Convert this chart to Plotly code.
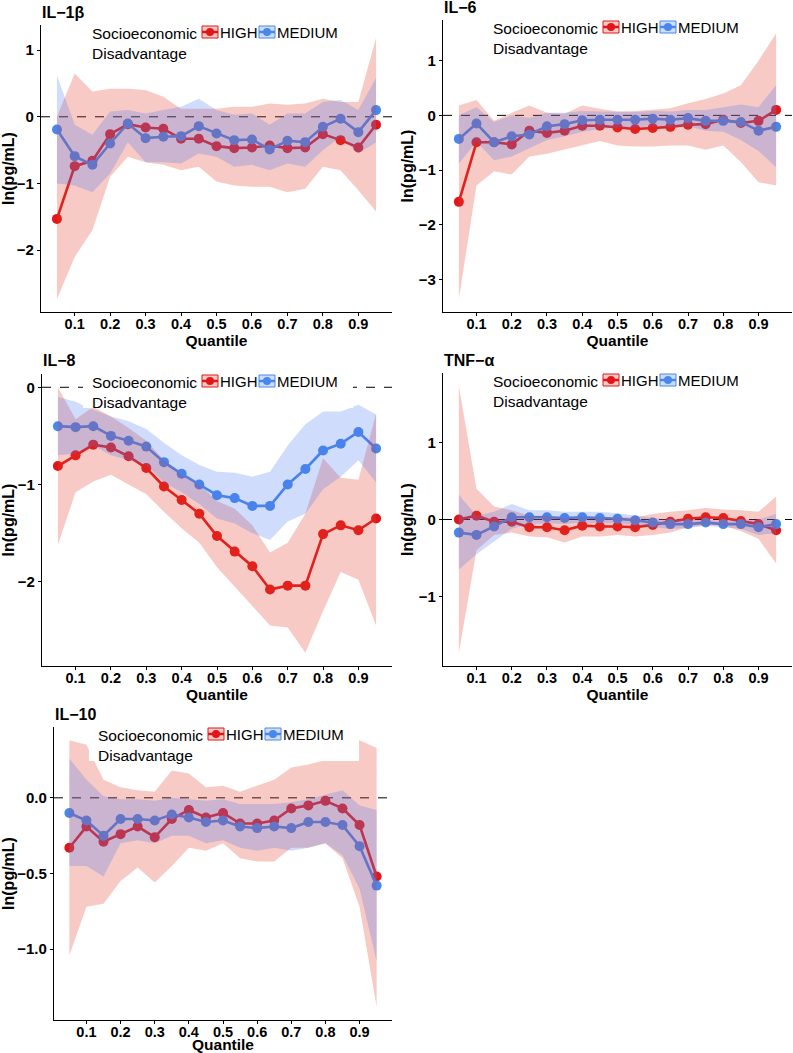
import plotly.graph_objects as go

# quantiles on the x axis
quantiles = [0.05, 0.1, 0.15, 0.2, 0.25, 0.3, 0.35, 0.4, 0.45, 0.5,
             0.55, 0.6, 0.65, 0.7, 0.75, 0.8, 0.85, 0.9, 0.95]

# IL-1b
il1b_high = [-1.53, -0.74, -0.66, -0.26, -0.11, -0.16, -0.18, -0.33, -0.33, -0.44,
             -0.47, -0.46, -0.43, -0.47, -0.46, -0.26, -0.35, -0.46, -0.12]
il1b_high_lo = [-2.73, -2.1, -1.7, -0.9, -0.6, -0.68, -0.72, -0.8, -0.75, -0.97,
                -1.03, -1.05, -1.05, -1.13, -1.08, -0.75, -0.8, -1.1, -1.42]
il1b_high_hi = [0.0, 0.65, 0.38, 0.42, 0.42, 0.4, 0.3, 0.12, 0.12, 0.12,
                0.15, 0.15, 0.2, 0.18, 0.2, 0.27, 0.22, 0.22, 1.18]
il1b_med = [-0.19, -0.59, -0.72, -0.4, -0.1, -0.32, -0.3, -0.29, -0.14, -0.25,
            -0.35, -0.34, -0.49, -0.36, -0.38, -0.15, -0.03, -0.23, 0.1]
il1b_med_lo = [-1.0, -1.03, -1.13, -0.85, -0.38, -0.68, -0.68, -0.7, -0.55, -0.6,
               -0.75, -0.72, -0.8, -0.7, -0.75, -0.5, -0.3, -0.55, -0.38]
il1b_med_hi = [0.62, -0.12, -0.27, 0.08, 0.1, 0.05, 0.1, 0.15, 0.27, 0.1,
               0.03, 0.05, -0.12, 0.05, 0.05, 0.22, 0.25, 0.1, 0.58]

# IL-6
il6_high = [-1.58, -0.49, -0.49, -0.53, -0.28, -0.32, -0.28, -0.19, -0.19, -0.22,
            -0.25, -0.23, -0.21, -0.17, -0.16, -0.08, -0.14, -0.1, 0.1]
il6_high_lo = [-3.35, -1.28, -1.02, -1.08, -0.75, -0.7, -0.62, -0.55, -0.47, -0.55,
               -0.57, -0.57, -0.55, -0.55, -0.63, -0.55, -0.85, -1.22, -1.28]
il6_high_hi = [0.18, 0.28, -0.1, 0.05, 0.18, 0.05, 0.03, 0.18, 0.12, 0.07,
               0.08, 0.1, 0.13, 0.22, 0.3, 0.4, 0.55, 1.0, 1.5]
il6_med = [-0.43, -0.15, -0.49, -0.38, -0.35, -0.2, -0.16, -0.09, -0.08, -0.08,
           -0.08, -0.06, -0.08, -0.05, -0.1, -0.1, -0.12, -0.28, -0.21]
il6_med_lo = [-0.88, -0.48, -0.82, -0.75, -0.6, -0.45, -0.38, -0.3, -0.25, -0.22,
              -0.22, -0.2, -0.22, -0.2, -0.28, -0.3, -0.45, -0.65, -0.95]
il6_med_hi = [0.0, 0.15, -0.12, 0.0, -0.05, 0.05, 0.05, 0.08, 0.07, 0.06,
              0.06, 0.08, 0.07, 0.1, 0.1, 0.15, 0.2, 0.15, 0.55]

# IL-8
il8_high = [-0.81, -0.7, -0.59, -0.62, -0.71, -0.83, -1.02, -1.16, -1.3, -1.53,
            -1.69, -1.84, -2.08, -2.04, -2.04, -1.51, -1.42, -1.47, -1.35]
il8_high_lo = [-1.62, -1.08, -0.97, -0.9, -1.0, -1.1, -1.28, -1.45, -1.6, -1.85,
               -2.05, -2.25, -2.45, -2.47, -2.73, -2.3, -1.9, -1.98, -2.45]
il8_high_hi = [0.0, -0.33, -0.2, -0.3, -0.42, -0.55, -0.75, -0.9, -1.0, -1.17,
               -1.25, -1.42, -1.7, -1.6, -1.3, -0.73, -0.93, -0.95, -0.27]
il8_med = [-0.4, -0.41, -0.4, -0.5, -0.55, -0.61, -0.77, -0.89, -1.0, -1.11,
           -1.14, -1.22, -1.22, -1.0, -0.84, -0.65, -0.58, -0.46, -0.63]
il8_med_lo = [-0.7, -0.68, -0.6, -0.7, -0.75, -0.8, -0.98, -1.08, -1.2, -1.35,
              -1.4, -1.5, -1.57, -1.38, -1.3, -1.05, -0.92, -0.75, -0.98]
il8_med_hi = [-0.1, -0.15, -0.23, -0.3, -0.35, -0.43, -0.57, -0.7, -0.8, -0.87,
              -0.88, -0.92, -0.87, -0.6, -0.38, -0.25, -0.25, -0.18, -0.28]

# TNF-a
tnf_high = [0.0, 0.05, -0.03, -0.03, -0.1, -0.1, -0.14, -0.08, -0.09, -0.09,
            -0.1, -0.07, -0.03, 0.01, 0.03, 0.02, -0.02, -0.06, -0.14]
tnf_high_lo = [-1.73, -0.4, -0.2, -0.17, -0.22, -0.23, -0.3, -0.22, -0.22, -0.2,
               -0.22, -0.2, -0.17, -0.1, -0.07, -0.08, -0.15, -0.25, -0.57]
tnf_high_hi = [1.73, 0.4, 0.17, 0.12, 0.05, 0.05, 0.02, 0.03, 0.03, 0.03,
               0.03, 0.07, 0.1, 0.12, 0.15, 0.13, 0.12, 0.1, 0.3]
tnf_med = [-0.17, -0.2, -0.09, 0.03, 0.03, 0.03, 0.02, 0.03, 0.02, 0.01,
           -0.01, -0.04, -0.06, -0.06, -0.04, -0.06, -0.06, -0.1, -0.06]
tnf_med_lo = [-0.65, -0.45, -0.28, -0.12, -0.06, -0.05, -0.06, -0.04, -0.05, -0.05,
              -0.07, -0.1, -0.12, -0.11, -0.08, -0.1, -0.12, -0.2, -0.18]
tnf_med_hi = [0.32, 0.05, 0.1, 0.2, 0.12, 0.12, 0.1, 0.1, 0.1, 0.08,
              0.05, 0.02, 0.0, -0.01, 0.0, -0.02, 0.0, 0.0, 0.07]

# IL-10
il10_high = [-0.33, -0.19, -0.29, -0.24, -0.19, -0.26, -0.14, -0.08, -0.13, -0.1,
             -0.17, -0.17, -0.15, -0.07, -0.05, -0.02, -0.07, -0.18, -0.52]
il10_high_lo = [-1.04, -0.72, -0.7, -0.55, -0.46, -0.56, -0.45, -0.33, -0.35, -0.3,
                -0.4, -0.42, -0.42, -0.33, -0.33, -0.3, -0.4, -0.72, -1.38]
il10_high_hi = [0.38, 0.35, 0.12, 0.07, 0.05, 0.04, 0.18, 0.16, 0.07, 0.08,
                0.04, 0.08, 0.12, 0.2, 0.22, 0.25, 0.25, 0.38, 0.33]
il10_med = [-0.1, -0.15, -0.25, -0.14, -0.14, -0.15, -0.11, -0.13, -0.16, -0.15,
            -0.19, -0.2, -0.19, -0.2, -0.16, -0.16, -0.18, -0.32, -0.58]
il10_med_lo = [-0.45, -0.45, -0.52, -0.3, -0.28, -0.3, -0.25, -0.25, -0.3, -0.28,
               -0.33, -0.35, -0.33, -0.35, -0.33, -0.3, -0.38, -0.6, -1.08]
il10_med_hi = [0.26, 0.12, 0.01, -0.01, -0.01, -0.02, 0.0, -0.01, -0.02, -0.01,
               -0.04, -0.04, -0.04, -0.03, -0.01, 0.02, 0.05, -0.05, -0.08]

panel_titles = ["IL\u22121\u03b2", "IL\u22126", "IL\u22128", "TNF\u2212\u03b1", "IL\u221210"]
groups = ["HIGH", "MEDIUM"]
x_ticks = [0.1, 0.2, 0.3, 0.4, 0.5, 0.6, 0.7, 0.8, 0.9]
y_ticks = [[-2, -1, 0, 1], [-3, -2, -1, 0, 1], [-2, -1, 0], [-1, 0, 1], [-1.0, -0.5, 0.0]]

panel_data = [
    (il1b_high, il1b_high_lo, il1b_high_hi, il1b_med, il1b_med_lo, il1b_med_hi),
    (il6_high, il6_high_lo, il6_high_hi, il6_med, il6_med_lo, il6_med_hi),
    (il8_high, il8_high_lo, il8_high_hi, il8_med, il8_med_lo, il8_med_hi),
    (tnf_high, tnf_high_lo, tnf_high_hi, tnf_med, tnf_med_lo, tnf_med_hi),
    (il10_high, il10_high_lo, il10_high_hi, il10_med, il10_med_lo, il10_med_hi),
]

W, H = 793, 1053
# plot boxes in page pixels: left, right, top, bottom
boxes = [(41, 392, 25, 312), (443, 792, 20, 312), (42, 392, 374, 666),
         (443, 792, 373, 666), (54, 392, 727, 1020)]
legend_dx = [50, 49, 49, 49, 43]

RED = "rgb(226,22,24)"
BLUE = "rgb(72,136,236)"
RED_FILL = "rgba(226,60,40,0.27)"
BLUE_FILL = "rgba(72,120,240,0.26)"
FONT = "Liberation Sans, Arial, sans-serif"


def px(x):
    return x / W


def py(y):
    return 1 - y / H


fig = go.Figure()

for i, (data, box) in enumerate(zip(panel_data, boxes)):
    high, high_lo, high_hi, med, med_lo, med_hi = data
    n = "" if i == 0 else str(i + 1)
    xa, ya = "x" + n, "y" + n

    # lines and points first, ribbons on top
    for vals, col in [(high, RED), (med, BLUE)]:
        fig.add_trace(go.Scatter(x=quantiles, y=vals, mode="lines+markers",
                                 line=dict(color=col, width=2.6),
                                 marker=dict(color=col, size=10),
                                 showlegend=False, xaxis=xa, yaxis=ya))
    for lo, hi, fcol in [(high_lo, high_hi, RED_FILL), (med_lo, med_hi, BLUE_FILL)]:
        fig.add_trace(go.Scatter(x=quantiles + quantiles[::-1], y=hi + lo[::-1],
                                 fill="toself", fillcolor=fcol, mode="lines",
                                 line=dict(width=0), showlegend=False,
                                 hoverinfo="skip", xaxis=xa, yaxis=ya))

    allv = high_lo + high_hi + med_lo + med_hi + high + med
    lo_v, hi_v = min(allv), max(allv)
    pad = (hi_v - lo_v) * 0.05
    l, r, t, b = box
    ax_x = dict(domain=[px(l), px(r)], range=[0.005, 0.995], anchor=ya,
                tickvals=x_ticks, tickformat=".1f", showline=True, linecolor="black",
                linewidth=1.2, ticks="outside", ticklen=3, tickcolor="black",
                ticklabelstandoff=-5,
                showgrid=False, zeroline=False, automargin=False,
                tickfont=dict(family=FONT, size=14.5, color="black", weight="bold"),
                title=dict(text="<b>Quantile</b>", standoff=4,
                           font=dict(family=FONT, size=15.5, color="black")))
    ax_y = dict(domain=[py(b), py(t)], range=[lo_v - pad, hi_v + pad], anchor=xa,
                tickvals=y_ticks[i], showline=True, linecolor="black", linewidth=1.2,
                ticks="outside", ticklen=3, tickcolor="black", showgrid=False,
                zeroline=False, automargin=False,
                tickfont=dict(family=FONT, size=15, color="black", weight="bold"),
                title=dict(text="<b>ln(pg/mL)</b>", standoff=1,
                           font=dict(family=FONT, size=16, color="black")))
    if i == 4:
        ax_y["tickformat"] = ".1f"
    fig.layout["xaxis" + n] = ax_x
    fig.layout["yaxis" + n] = ax_y

    # dashed reference line at zero
    fig.add_shape(type="line", xref=xa + " domain", yref=ya, x0=0, x1=1, y0=0, y1=0,
                  line=dict(color="black", width=1, dash="dash"), layer="below")

    fig.add_annotation(text="<b>" + panel_titles[i] + "</b>", xref="paper", yref="paper",
                       x=px(l - 1), y=py(t - 13), xanchor="left", yanchor="middle",
                       showarrow=False, font=dict(family=FONT, size=16, color="black"))

    # legend drawn inside the panel, with a white box behind it
    tx, ty = l + legend_dx[i], t + 7
    fig.add_shape(type="rect", xref="paper", yref="paper", x0=px(tx - 8), x1=px(tx + 262),
                  y0=py(ty + 27), y1=py(ty - 9), fillcolor="white", line=dict(width=0),
                  layer="above")
    fig.add_annotation(text="Socioeconomic<br>Disadvantage", xref="paper", yref="paper",
                       x=px(tx - 1), y=py(ty - 9), xanchor="left", yanchor="top", align="left",
                       showarrow=False, font=dict(family=FONT, size=15.5, color="black"))
    for k, (name, col, fcol) in enumerate([(groups[0], RED, RED_FILL),
                                           (groups[1], BLUE, BLUE_FILL)]):
        kx = tx + 111 + k * 57
        fig.add_shape(type="rect", xref="paper", yref="paper", x0=px(kx), x1=px(kx + 16),
                      y0=py(ty + 6), y1=py(ty - 6), fillcolor=fcol,
                      line=dict(color=col, width=1), layer="above")
        fig.add_shape(type="line", xref="paper", yref="paper", x0=px(kx), x1=px(kx + 16),
                      y0=py(ty), y1=py(ty), line=dict(color=col, width=2.5), layer="above")
        fig.add_shape(type="circle", xref="paper", yref="paper", x0=px(kx + 4), x1=px(kx + 12),
                      y0=py(ty + 4), y1=py(ty - 4), fillcolor=col, line=dict(width=0),
                      layer="above")
        fig.add_annotation(text=name, xref="paper", yref="paper", x=px(kx + 16), y=py(ty),
                           xanchor="left", yanchor="middle", showarrow=False,
                           font=dict(family=FONT, size=15, color="black"))

fig.update_layout(width=W, height=H, margin=dict(l=0, r=0, t=0, b=0),
                  plot_bgcolor="white", paper_bgcolor="white", showlegend=False,
                  font=dict(family=FONT, color="black"))

# page body has a default margin; drop it so the figure fills the window
fig.write_html("out.html", config={"displayModeBar": False},
               post_script="document.body.style.margin='0px';")
